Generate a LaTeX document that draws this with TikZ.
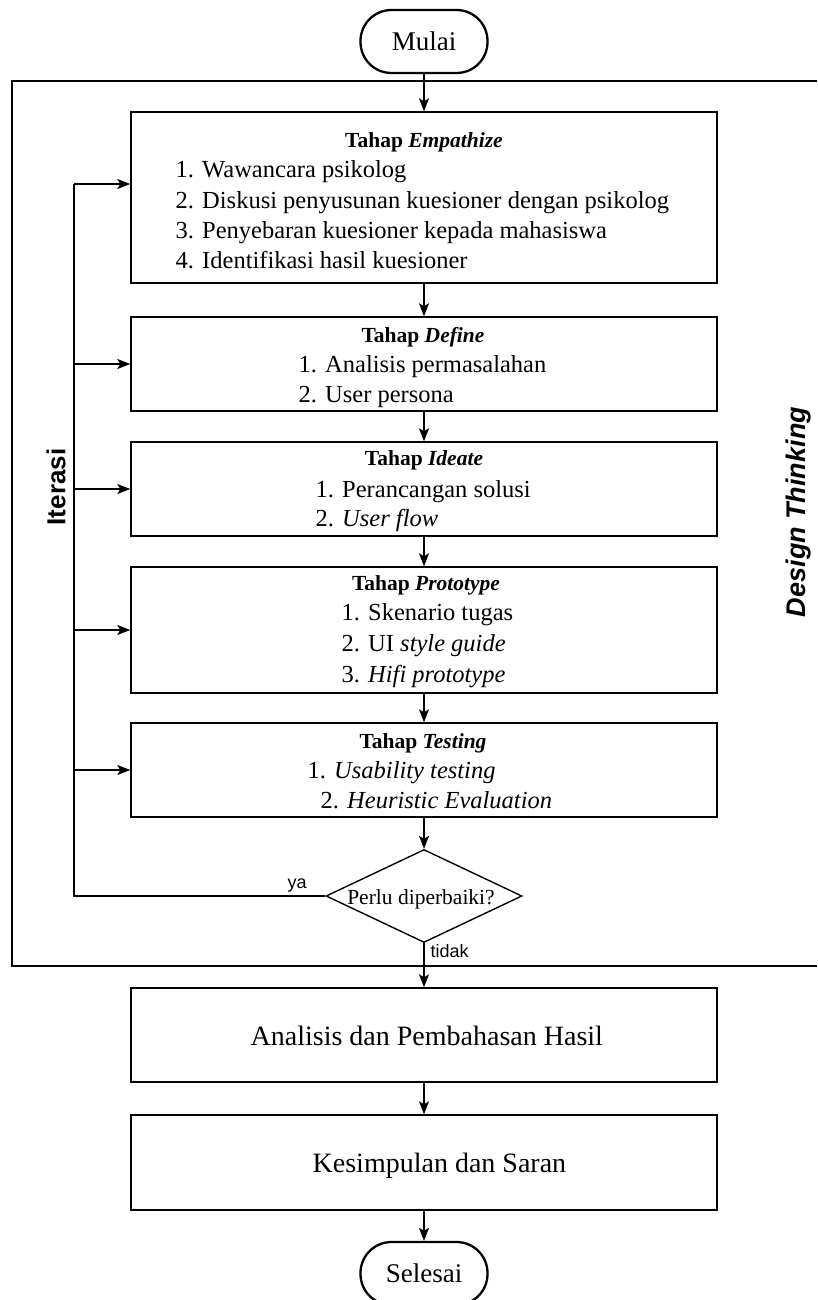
\documentclass[tikz,border=0pt]{standalone}
\usepackage{fontspec}
\setmainfont{Liberation Serif}
\newfontfamily\labelsans{Liberation Sans}
\usetikzlibrary{shapes.geometric,arrows.meta}
\begin{document}
\begin{tikzpicture}[x=1pt,y=-1pt,
  line width=1.4pt,
  arr/.style={-{Stealth[length=13pt,width=10pt,inset=3pt]}},
  stage/.style={draw,rectangle,minimum width=586pt,inner sep=0pt},
  term/.style={draw,line width=2.3pt,rounded corners=31pt,minimum width=127pt,
    minimum height=63pt,inner sep=0pt,font=\fontsize{27}{30}\selectfont},
  ttl/.style={anchor=base,inner sep=0pt,font=\fontsize{21.5}{24}\selectfont\bfseries},
  itm/.style={anchor=base west,inner sep=0pt,font=\fontsize{24.5}{28}\selectfont},
  big/.style={anchor=base west,inner sep=0pt,font=\fontsize{28}{32}\selectfont},
  lbl/.style={anchor=base west,inner sep=0pt,font=\labelsans\fontsize{18}{20}\selectfont},
  side/.style={rotate=90,inner sep=0pt,font=\labelsans\fontsize{26}{30}\selectfont\bfseries},
]
\useasboundingbox (0,0) rectangle (817,1300);

% outer frame of the design thinking cycle (open to the right)
\draw (817,81) -- (12,81) -- (12,966) -- (817,966);

% terminals
\node[term] (mulai) at (424,41.5) {Mulai};
\node[term] (selesai) at (424,1273.5) {Selesai};

% stage boxes
\node[stage,minimum height=171pt] (emp) at (424,197.5) {};
\node[stage,minimum height=94pt] (def) at (424,364) {};
\node[stage,minimum height=94pt] (ide) at (424,489) {};
\node[stage,minimum height=126pt] (pro) at (424,630) {};
\node[stage,minimum height=94pt] (tes) at (424,770) {};
\node[draw,diamond,inner sep=0pt,minimum width=196pt,minimum height=93pt] (dec) at (424,896) {};
\node[stage,minimum height=94pt] (ana) at (424,1035) {};
\node[stage,minimum height=95pt] (kes) at (424,1162.5) {};

% texts of the stages
\node[ttl] at (424,148) {Tahap \textit{Empathize}};
\node[itm] at (175,178) {1. Wawancara psikolog};
\node[itm] at (175,208) {2. Diskusi penyusunan kuesioner dengan psikolog};
\node[itm] at (175,238) {3. Penyebaran kuesioner kepada mahasiswa};
\node[itm] at (175,268) {4. Identifikasi hasil kuesioner};

\node[ttl] at (423,342) {Tahap \textit{Define}};
\node[itm] at (298,372) {1. Analisis permasalahan};
\node[itm] at (298,402) {2. User persona};

\node[ttl] at (424,465) {Tahap \textit{Ideate}};
\node[itm] at (315,497) {1. Perancangan solusi};
\node[itm] at (315,526) {2. \textit{User flow}};

\node[ttl] at (426,590) {Tahap \textit{Prototype}};
\node[itm] at (341,620) {1. Skenario tugas};
\node[itm] at (341,651) {2. UI \textit{style guide}};
\node[itm] at (341,682) {3. \textit{Hifi prototype}};

\node[ttl] at (423,748) {Tahap \textit{Testing}};
\node[itm] at (307,778) {1. \textit{Usability testing}};
\node[itm] at (320,808) {2. \textit{Heuristic Evaluation}};

\node[anchor=base,inner sep=0pt,font=\fontsize{21.5}{24}\selectfont] at (421,904) {Perlu diperbaiki?};

\node[big] at (250,1045) {Analisis dan Pembahasan Hasil};
\node[big] at (312,1172) {Kesimpulan dan Saran};

% side captions
\node[side] at (56,487) {Iterasi};
\node[side,font=\labelsans\fontsize{27}{30}\selectfont\bfseries\itshape] at (799,512) {Design Thinking};

% main flow
\draw[arr] (mulai) -- (emp);
\draw[arr] (emp) -- (def);
\draw[arr] (def) -- (ide);
\draw[arr] (ide) -- (pro);
\draw[arr] (pro) -- (tes);
\draw[arr] (tes) -- (dec);
\draw[arr] (dec) -- (ana);
\draw[arr] (ana) -- (kes);
\draw[arr] (kes) -- (selesai);

% iteration loop
\coordinate (looptop) at (74,184);
\draw (dec.west) -- (dec.west -| looptop) -- (looptop);
\draw[arr] (looptop) -- (emp.west |- looptop);
\draw[arr] (def.west -| looptop) -- (def.west);
\draw[arr] (ide.west -| looptop) -- (ide.west);
\draw[arr] (pro.west -| looptop) -- (pro.west);
\draw[arr] (tes.west -| looptop) -- (tes.west);

\node[lbl] at (287,888) {ya};
\node[lbl] at (430,957) {tidak};
\end{tikzpicture}
\end{document}
